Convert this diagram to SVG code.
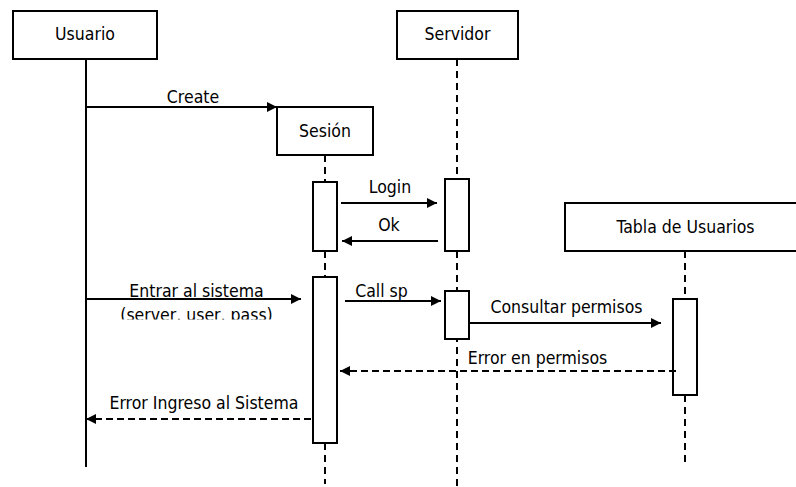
<svg xmlns="http://www.w3.org/2000/svg" width="796" height="487" viewBox="0 0 796 487">
<style>
.box{fill:#fff;stroke:#000;stroke-width:2}
.act{fill:#fff;stroke:#000;stroke-width:2}
.life{stroke:#000;stroke-width:2;fill:none}
.dash{stroke-dasharray:7 5}
.msg{stroke:#000;stroke-width:2;fill:none}
.ret{stroke:#000;stroke-width:2;fill:none;stroke-dasharray:7 4}
text{font-family:"DejaVu Sans Condensed","DejaVu Sans",sans-serif;font-stretch:condensed;font-size:17.5px;fill:#000;text-anchor:middle}
</style>
<defs>
<marker id="ah" markerWidth="11" markerHeight="10" refX="10" refY="5" orient="auto" markerUnits="userSpaceOnUse">
<path d="M0,0 L10,5 L0,10 Z" fill="#000"/>
</marker>
<clipPath id="clipParams"><rect x="0" y="301" width="400" height="18.5"/></clipPath>
</defs>
<rect width="796" height="487" fill="#fff"/>
<g id="lifelines">
<line class="life" x1="86" y1="59" x2="86" y2="467"/>
<line class="life dash" x1="325" y1="155" x2="325" y2="484"/>
<line class="life dash" x1="457" y1="59" x2="457" y2="487"/>
<line class="life dash" x1="685" y1="251" x2="685" y2="467"/>
</g>
<g id="usuario"><rect class="box" x="13" y="11" width="144" height="48"/><text x="85" y="40">Usuario</text></g>
<g id="servidor"><rect class="box" x="397" y="11" width="121" height="48"/><text x="457.5" y="40">Servidor</text></g>
<g id="sesion"><rect class="box" x="277" y="107" width="96" height="48"/><text x="325" y="137">Sesión</text></g>
<g id="tabla"><rect class="box" x="565" y="203" width="242" height="48"/><text x="685.5" y="233">Tabla de Usuarios</text></g>
<g id="activations">
<rect class="act" x="313" y="182" width="24" height="69"/>
<rect class="act" x="313" y="277" width="24" height="166"/>
<rect class="act" x="445" y="179" width="24" height="72"/>
<rect class="act" x="445" y="291" width="24" height="48"/>
<rect class="act" x="673" y="299" width="24" height="96"/>
</g>
<g id="connectors">
<line class="msg" x1="86" y1="107" x2="277" y2="107" marker-end="url(#ah)"/>
<line class="msg" x1="341" y1="203" x2="437" y2="203" marker-end="url(#ah)"/>
<line class="msg" x1="438" y1="241" x2="342" y2="241" marker-end="url(#ah)"/>
<line class="msg" x1="86" y1="299" x2="301" y2="299" marker-end="url(#ah)"/>
<line class="msg" x1="345" y1="301" x2="441" y2="301" marker-end="url(#ah)"/>
<line class="msg" x1="469" y1="323" x2="661" y2="323" marker-end="url(#ah)"/>
<line class="ret" x1="676" y1="371" x2="340" y2="371" marker-end="url(#ah)"/>
<line class="ret" x1="311" y1="419" x2="86" y2="419" marker-end="url(#ah)"/>
</g>
<g id="labels">
<text x="193" y="103">Create</text>
<text x="390" y="193">Login</text>
<text x="389" y="231">Ok</text>
<text x="196.5" y="297">Entrar al sistema</text>
<text x="196.5" y="320.5" clip-path="url(#clipParams)">(server, user, pass)</text>
<text x="381.5" y="297">Call sp</text>
<text x="566.5" y="313">Consultar permisos</text>
<text x="537.5" y="364">Error en permisos</text>
<text x="204" y="409">Error Ingreso al Sistema</text>
</g>
</svg>
